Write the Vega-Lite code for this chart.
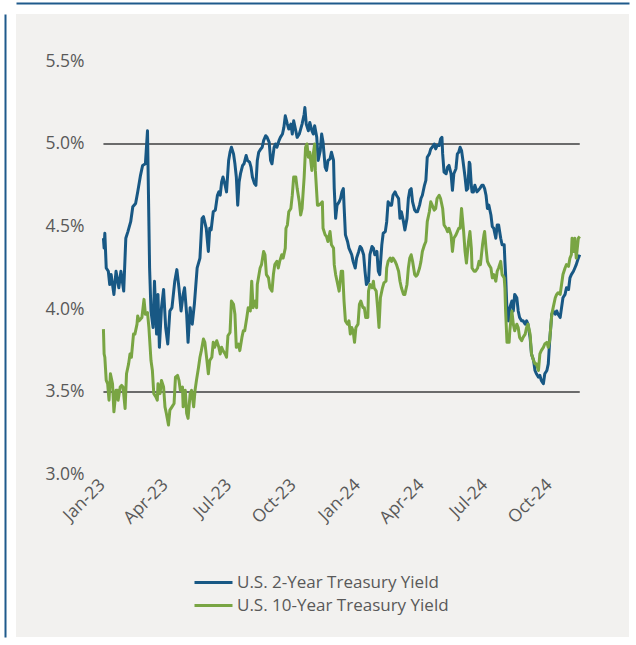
{
  "$schema": "https://vega.github.io/schema/vega-lite/v6.json",
  "width": 613,
  "height": 623,
  "autosize": {"type": "none"},
  "padding": {"left": 16, "top": 14, "right": 7, "bottom": 8},
  "background": "#ffffff",
  "config": {
    "view": {"fill": "#f2f1ef", "stroke": null},
    "font": "Open Sans",
    "axis": {"labelFont": "Open Sans", "labelFontSize": 17.5, "labelColor": "#595959"},
    "legend": {"labelFont": "Open Sans", "labelFontSize": 17, "labelColor": "#595959"}
  },
  "datasets": {
    "levels": [{"level": 5.0}, {"level": 3.5}],
    "yields": [
{"date":"2023-01-03","series":"U.S. 2-Year Treasury Yield","value":4.43},
{"date":"2023-01-04","series":"U.S. 2-Year Treasury Yield","value":4.37},
{"date":"2023-01-05","series":"U.S. 2-Year Treasury Yield","value":4.46},
{"date":"2023-01-07","series":"U.S. 2-Year Treasury Yield","value":4.25},
{"date":"2023-01-10","series":"U.S. 2-Year Treasury Yield","value":4.23},
{"date":"2023-01-12","series":"U.S. 2-Year Treasury Yield","value":4.15},
{"date":"2023-01-14","series":"U.S. 2-Year Treasury Yield","value":4.21},
{"date":"2023-01-18","series":"U.S. 2-Year Treasury Yield","value":4.09},
{"date":"2023-01-21","series":"U.S. 2-Year Treasury Yield","value":4.23},
{"date":"2023-01-25","series":"U.S. 2-Year Treasury Yield","value":4.13},
{"date":"2023-01-28","series":"U.S. 2-Year Treasury Yield","value":4.23},
{"date":"2023-02-01","series":"U.S. 2-Year Treasury Yield","value":4.11},
{"date":"2023-02-04","series":"U.S. 2-Year Treasury Yield","value":4.43},
{"date":"2023-02-07","series":"U.S. 2-Year Treasury Yield","value":4.47},
{"date":"2023-02-11","series":"U.S. 2-Year Treasury Yield","value":4.53},
{"date":"2023-02-14","series":"U.S. 2-Year Treasury Yield","value":4.62},
{"date":"2023-02-18","series":"U.S. 2-Year Treasury Yield","value":4.64},
{"date":"2023-02-21","series":"U.S. 2-Year Treasury Yield","value":4.71},
{"date":"2023-02-25","series":"U.S. 2-Year Treasury Yield","value":4.81},
{"date":"2023-02-28","series":"U.S. 2-Year Treasury Yield","value":4.87},
{"date":"2023-03-04","series":"U.S. 2-Year Treasury Yield","value":4.88},
{"date":"2023-03-07","series":"U.S. 2-Year Treasury Yield","value":5.08},
{"date":"2023-03-10","series":"U.S. 2-Year Treasury Yield","value":4.25},
{"date":"2023-03-12","series":"U.S. 2-Year Treasury Yield","value":3.99},
{"date":"2023-03-15","series":"U.S. 2-Year Treasury Yield","value":3.89},
{"date":"2023-03-17","series":"U.S. 2-Year Treasury Yield","value":4.17},
{"date":"2023-03-20","series":"U.S. 2-Year Treasury Yield","value":3.85},
{"date":"2023-03-22","series":"U.S. 2-Year Treasury Yield","value":4.09},
{"date":"2023-03-24","series":"U.S. 2-Year Treasury Yield","value":3.77},
{"date":"2023-03-27","series":"U.S. 2-Year Treasury Yield","value":4.01},
{"date":"2023-03-30","series":"U.S. 2-Year Treasury Yield","value":4.12},
{"date":"2023-04-02","series":"U.S. 2-Year Treasury Yield","value":3.89},
{"date":"2023-04-05","series":"U.S. 2-Year Treasury Yield","value":3.79},
{"date":"2023-04-08","series":"U.S. 2-Year Treasury Yield","value":3.99},
{"date":"2023-04-11","series":"U.S. 2-Year Treasury Yield","value":4.01},
{"date":"2023-04-15","series":"U.S. 2-Year Treasury Yield","value":4.17},
{"date":"2023-04-18","series":"U.S. 2-Year Treasury Yield","value":4.24},
{"date":"2023-04-21","series":"U.S. 2-Year Treasury Yield","value":4.13},
{"date":"2023-04-24","series":"U.S. 2-Year Treasury Yield","value":3.99},
{"date":"2023-04-27","series":"U.S. 2-Year Treasury Yield","value":4.09},
{"date":"2023-04-29","series":"U.S. 2-Year Treasury Yield","value":4.13},
{"date":"2023-05-02","series":"U.S. 2-Year Treasury Yield","value":3.97},
{"date":"2023-05-04","series":"U.S. 2-Year Treasury Yield","value":3.80},
{"date":"2023-05-07","series":"U.S. 2-Year Treasury Yield","value":4.01},
{"date":"2023-05-10","series":"U.S. 2-Year Treasury Yield","value":3.91},
{"date":"2023-05-13","series":"U.S. 2-Year Treasury Yield","value":4.03},
{"date":"2023-05-17","series":"U.S. 2-Year Treasury Yield","value":4.25},
{"date":"2023-05-21","series":"U.S. 2-Year Treasury Yield","value":4.31},
{"date":"2023-05-24","series":"U.S. 2-Year Treasury Yield","value":4.55},
{"date":"2023-05-26","series":"U.S. 2-Year Treasury Yield","value":4.56},
{"date":"2023-05-30","series":"U.S. 2-Year Treasury Yield","value":4.49},
{"date":"2023-06-02","series":"U.S. 2-Year Treasury Yield","value":4.35},
{"date":"2023-06-04","series":"U.S. 2-Year Treasury Yield","value":4.49},
{"date":"2023-06-06","series":"U.S. 2-Year Treasury Yield","value":4.48},
{"date":"2023-06-09","series":"U.S. 2-Year Treasury Yield","value":4.59},
{"date":"2023-06-12","series":"U.S. 2-Year Treasury Yield","value":4.60},
{"date":"2023-06-15","series":"U.S. 2-Year Treasury Yield","value":4.69},
{"date":"2023-06-17","series":"U.S. 2-Year Treasury Yield","value":4.71},
{"date":"2023-06-19","series":"U.S. 2-Year Treasury Yield","value":4.69},
{"date":"2023-06-21","series":"U.S. 2-Year Treasury Yield","value":4.77},
{"date":"2023-06-23","series":"U.S. 2-Year Treasury Yield","value":4.80},
{"date":"2023-06-26","series":"U.S. 2-Year Treasury Yield","value":4.75},
{"date":"2023-06-28","series":"U.S. 2-Year Treasury Yield","value":4.71},
{"date":"2023-07-01","series":"U.S. 2-Year Treasury Yield","value":4.90},
{"date":"2023-07-03","series":"U.S. 2-Year Treasury Yield","value":4.95},
{"date":"2023-07-05","series":"U.S. 2-Year Treasury Yield","value":4.98},
{"date":"2023-07-08","series":"U.S. 2-Year Treasury Yield","value":4.94},
{"date":"2023-07-10","series":"U.S. 2-Year Treasury Yield","value":4.88},
{"date":"2023-07-12","series":"U.S. 2-Year Treasury Yield","value":4.80},
{"date":"2023-07-14","series":"U.S. 2-Year Treasury Yield","value":4.63},
{"date":"2023-07-16","series":"U.S. 2-Year Treasury Yield","value":4.77},
{"date":"2023-07-18","series":"U.S. 2-Year Treasury Yield","value":4.82},
{"date":"2023-07-21","series":"U.S. 2-Year Treasury Yield","value":4.87},
{"date":"2023-07-23","series":"U.S. 2-Year Treasury Yield","value":4.88},
{"date":"2023-07-26","series":"U.S. 2-Year Treasury Yield","value":4.93},
{"date":"2023-07-28","series":"U.S. 2-Year Treasury Yield","value":4.90},
{"date":"2023-07-31","series":"U.S. 2-Year Treasury Yield","value":4.89},
{"date":"2023-08-02","series":"U.S. 2-Year Treasury Yield","value":4.86},
{"date":"2023-08-04","series":"U.S. 2-Year Treasury Yield","value":4.80},
{"date":"2023-08-07","series":"U.S. 2-Year Treasury Yield","value":4.76},
{"date":"2023-08-09","series":"U.S. 2-Year Treasury Yield","value":4.75},
{"date":"2023-08-11","series":"U.S. 2-Year Treasury Yield","value":4.90},
{"date":"2023-08-13","series":"U.S. 2-Year Treasury Yield","value":4.95},
{"date":"2023-08-16","series":"U.S. 2-Year Treasury Yield","value":4.97},
{"date":"2023-08-18","series":"U.S. 2-Year Treasury Yield","value":4.98},
{"date":"2023-08-20","series":"U.S. 2-Year Treasury Yield","value":5.02},
{"date":"2023-08-23","series":"U.S. 2-Year Treasury Yield","value":5.05},
{"date":"2023-08-25","series":"U.S. 2-Year Treasury Yield","value":5.04},
{"date":"2023-08-28","series":"U.S. 2-Year Treasury Yield","value":5.01},
{"date":"2023-08-30","series":"U.S. 2-Year Treasury Yield","value":4.90},
{"date":"2023-09-01","series":"U.S. 2-Year Treasury Yield","value":4.88},
{"date":"2023-09-04","series":"U.S. 2-Year Treasury Yield","value":4.98},
{"date":"2023-09-06","series":"U.S. 2-Year Treasury Yield","value":5.00},
{"date":"2023-09-08","series":"U.S. 2-Year Treasury Yield","value":4.98},
{"date":"2023-09-11","series":"U.S. 2-Year Treasury Yield","value":5.02},
{"date":"2023-09-13","series":"U.S. 2-Year Treasury Yield","value":5.04},
{"date":"2023-09-16","series":"U.S. 2-Year Treasury Yield","value":5.06},
{"date":"2023-09-18","series":"U.S. 2-Year Treasury Yield","value":5.10},
{"date":"2023-09-20","series":"U.S. 2-Year Treasury Yield","value":5.17},
{"date":"2023-09-23","series":"U.S. 2-Year Treasury Yield","value":5.12},
{"date":"2023-09-25","series":"U.S. 2-Year Treasury Yield","value":5.09},
{"date":"2023-09-28","series":"U.S. 2-Year Treasury Yield","value":5.12},
{"date":"2023-09-30","series":"U.S. 2-Year Treasury Yield","value":5.06},
{"date":"2023-10-02","series":"U.S. 2-Year Treasury Yield","value":5.14},
{"date":"2023-10-05","series":"U.S. 2-Year Treasury Yield","value":5.08},
{"date":"2023-10-07","series":"U.S. 2-Year Treasury Yield","value":5.04},
{"date":"2023-10-10","series":"U.S. 2-Year Treasury Yield","value":5.06},
{"date":"2023-10-12","series":"U.S. 2-Year Treasury Yield","value":5.09},
{"date":"2023-10-14","series":"U.S. 2-Year Treasury Yield","value":5.12},
{"date":"2023-10-17","series":"U.S. 2-Year Treasury Yield","value":5.18},
{"date":"2023-10-18","series":"U.S. 2-Year Treasury Yield","value":5.22},
{"date":"2023-10-20","series":"U.S. 2-Year Treasury Yield","value":5.12},
{"date":"2023-10-23","series":"U.S. 2-Year Treasury Yield","value":5.08},
{"date":"2023-10-25","series":"U.S. 2-Year Treasury Yield","value":5.13},
{"date":"2023-10-28","series":"U.S. 2-Year Treasury Yield","value":5.08},
{"date":"2023-10-30","series":"U.S. 2-Year Treasury Yield","value":5.06},
{"date":"2023-11-01","series":"U.S. 2-Year Treasury Yield","value":5.11},
{"date":"2023-11-04","series":"U.S. 2-Year Treasury Yield","value":5.04},
{"date":"2023-11-06","series":"U.S. 2-Year Treasury Yield","value":4.90},
{"date":"2023-11-09","series":"U.S. 2-Year Treasury Yield","value":4.96},
{"date":"2023-11-11","series":"U.S. 2-Year Treasury Yield","value":5.06},
{"date":"2023-11-13","series":"U.S. 2-Year Treasury Yield","value":5.01},
{"date":"2023-11-16","series":"U.S. 2-Year Treasury Yield","value":4.86},
{"date":"2023-11-18","series":"U.S. 2-Year Treasury Yield","value":4.84},
{"date":"2023-11-20","series":"U.S. 2-Year Treasury Yield","value":4.90},
{"date":"2023-11-23","series":"U.S. 2-Year Treasury Yield","value":4.91},
{"date":"2023-11-25","series":"U.S. 2-Year Treasury Yield","value":4.95},
{"date":"2023-11-28","series":"U.S. 2-Year Treasury Yield","value":4.90},
{"date":"2023-11-29","series":"U.S. 2-Year Treasury Yield","value":4.73},
{"date":"2023-12-01","series":"U.S. 2-Year Treasury Yield","value":4.55},
{"date":"2023-12-03","series":"U.S. 2-Year Treasury Yield","value":4.63},
{"date":"2023-12-06","series":"U.S. 2-Year Treasury Yield","value":4.65},
{"date":"2023-12-08","series":"U.S. 2-Year Treasury Yield","value":4.67},
{"date":"2023-12-10","series":"U.S. 2-Year Treasury Yield","value":4.71},
{"date":"2023-12-12","series":"U.S. 2-Year Treasury Yield","value":4.73},
{"date":"2023-12-13","series":"U.S. 2-Year Treasury Yield","value":4.63},
{"date":"2023-12-15","series":"U.S. 2-Year Treasury Yield","value":4.45},
{"date":"2023-12-18","series":"U.S. 2-Year Treasury Yield","value":4.41},
{"date":"2023-12-20","series":"U.S. 2-Year Treasury Yield","value":4.37},
{"date":"2023-12-22","series":"U.S. 2-Year Treasury Yield","value":4.35},
{"date":"2023-12-24","series":"U.S. 2-Year Treasury Yield","value":4.33},
{"date":"2023-12-26","series":"U.S. 2-Year Treasury Yield","value":4.29},
{"date":"2023-12-29","series":"U.S. 2-Year Treasury Yield","value":4.25},
{"date":"2023-12-31","series":"U.S. 2-Year Treasury Yield","value":4.31},
{"date":"2024-01-03","series":"U.S. 2-Year Treasury Yield","value":4.35},
{"date":"2024-01-05","series":"U.S. 2-Year Treasury Yield","value":4.38},
{"date":"2024-01-07","series":"U.S. 2-Year Treasury Yield","value":4.37},
{"date":"2024-01-10","series":"U.S. 2-Year Treasury Yield","value":4.33},
{"date":"2024-01-12","series":"U.S. 2-Year Treasury Yield","value":4.23},
{"date":"2024-01-14","series":"U.S. 2-Year Treasury Yield","value":4.15},
{"date":"2024-01-17","series":"U.S. 2-Year Treasury Yield","value":4.17},
{"date":"2024-01-19","series":"U.S. 2-Year Treasury Yield","value":4.33},
{"date":"2024-01-22","series":"U.S. 2-Year Treasury Yield","value":4.38},
{"date":"2024-01-24","series":"U.S. 2-Year Treasury Yield","value":4.37},
{"date":"2024-01-26","series":"U.S. 2-Year Treasury Yield","value":4.33},
{"date":"2024-01-29","series":"U.S. 2-Year Treasury Yield","value":4.35},
{"date":"2024-01-31","series":"U.S. 2-Year Treasury Yield","value":4.23},
{"date":"2024-02-02","series":"U.S. 2-Year Treasury Yield","value":4.21},
{"date":"2024-02-05","series":"U.S. 2-Year Treasury Yield","value":4.39},
{"date":"2024-02-07","series":"U.S. 2-Year Treasury Yield","value":4.46},
{"date":"2024-02-10","series":"U.S. 2-Year Treasury Yield","value":4.47},
{"date":"2024-02-12","series":"U.S. 2-Year Treasury Yield","value":4.53},
{"date":"2024-02-14","series":"U.S. 2-Year Treasury Yield","value":4.65},
{"date":"2024-02-17","series":"U.S. 2-Year Treasury Yield","value":4.63},
{"date":"2024-02-19","series":"U.S. 2-Year Treasury Yield","value":4.63},
{"date":"2024-02-21","series":"U.S. 2-Year Treasury Yield","value":4.69},
{"date":"2024-02-24","series":"U.S. 2-Year Treasury Yield","value":4.71},
{"date":"2024-02-26","series":"U.S. 2-Year Treasury Yield","value":4.69},
{"date":"2024-02-29","series":"U.S. 2-Year Treasury Yield","value":4.67},
{"date":"2024-03-02","series":"U.S. 2-Year Treasury Yield","value":4.55},
{"date":"2024-03-04","series":"U.S. 2-Year Treasury Yield","value":4.59},
{"date":"2024-03-07","series":"U.S. 2-Year Treasury Yield","value":4.53},
{"date":"2024-03-09","series":"U.S. 2-Year Treasury Yield","value":4.48},
{"date":"2024-03-12","series":"U.S. 2-Year Treasury Yield","value":4.55},
{"date":"2024-03-14","series":"U.S. 2-Year Treasury Yield","value":4.67},
{"date":"2024-03-16","series":"U.S. 2-Year Treasury Yield","value":4.72},
{"date":"2024-03-18","series":"U.S. 2-Year Treasury Yield","value":4.73},
{"date":"2024-03-20","series":"U.S. 2-Year Treasury Yield","value":4.65},
{"date":"2024-03-23","series":"U.S. 2-Year Treasury Yield","value":4.60},
{"date":"2024-03-25","series":"U.S. 2-Year Treasury Yield","value":4.59},
{"date":"2024-03-27","series":"U.S. 2-Year Treasury Yield","value":4.59},
{"date":"2024-03-30","series":"U.S. 2-Year Treasury Yield","value":4.63},
{"date":"2024-04-01","series":"U.S. 2-Year Treasury Yield","value":4.67},
{"date":"2024-04-03","series":"U.S. 2-Year Treasury Yield","value":4.69},
{"date":"2024-04-06","series":"U.S. 2-Year Treasury Yield","value":4.75},
{"date":"2024-04-08","series":"U.S. 2-Year Treasury Yield","value":4.78},
{"date":"2024-04-10","series":"U.S. 2-Year Treasury Yield","value":4.92},
{"date":"2024-04-13","series":"U.S. 2-Year Treasury Yield","value":4.94},
{"date":"2024-04-15","series":"U.S. 2-Year Treasury Yield","value":4.97},
{"date":"2024-04-17","series":"U.S. 2-Year Treasury Yield","value":4.98},
{"date":"2024-04-20","series":"U.S. 2-Year Treasury Yield","value":5.00},
{"date":"2024-04-22","series":"U.S. 2-Year Treasury Yield","value":4.97},
{"date":"2024-04-24","series":"U.S. 2-Year Treasury Yield","value":4.99},
{"date":"2024-04-27","series":"U.S. 2-Year Treasury Yield","value":4.99},
{"date":"2024-04-29","series":"U.S. 2-Year Treasury Yield","value":5.03},
{"date":"2024-05-01","series":"U.S. 2-Year Treasury Yield","value":5.04},
{"date":"2024-05-02","series":"U.S. 2-Year Treasury Yield","value":4.94},
{"date":"2024-05-04","series":"U.S. 2-Year Treasury Yield","value":4.83},
{"date":"2024-05-07","series":"U.S. 2-Year Treasury Yield","value":4.82},
{"date":"2024-05-09","series":"U.S. 2-Year Treasury Yield","value":4.86},
{"date":"2024-05-11","series":"U.S. 2-Year Treasury Yield","value":4.87},
{"date":"2024-05-14","series":"U.S. 2-Year Treasury Yield","value":4.82},
{"date":"2024-05-16","series":"U.S. 2-Year Treasury Yield","value":4.72},
{"date":"2024-05-18","series":"U.S. 2-Year Treasury Yield","value":4.82},
{"date":"2024-05-21","series":"U.S. 2-Year Treasury Yield","value":4.85},
{"date":"2024-05-23","series":"U.S. 2-Year Treasury Yield","value":4.94},
{"date":"2024-05-25","series":"U.S. 2-Year Treasury Yield","value":4.95},
{"date":"2024-05-27","series":"U.S. 2-Year Treasury Yield","value":4.98},
{"date":"2024-05-29","series":"U.S. 2-Year Treasury Yield","value":4.96},
{"date":"2024-05-31","series":"U.S. 2-Year Treasury Yield","value":4.90},
{"date":"2024-06-03","series":"U.S. 2-Year Treasury Yield","value":4.80},
{"date":"2024-06-05","series":"U.S. 2-Year Treasury Yield","value":4.72},
{"date":"2024-06-07","series":"U.S. 2-Year Treasury Yield","value":4.73},
{"date":"2024-06-09","series":"U.S. 2-Year Treasury Yield","value":4.89},
{"date":"2024-06-10","series":"U.S. 2-Year Treasury Yield","value":4.88},
{"date":"2024-06-12","series":"U.S. 2-Year Treasury Yield","value":4.75},
{"date":"2024-06-13","series":"U.S. 2-Year Treasury Yield","value":4.71},
{"date":"2024-06-15","series":"U.S. 2-Year Treasury Yield","value":4.71},
{"date":"2024-06-17","series":"U.S. 2-Year Treasury Yield","value":4.75},
{"date":"2024-06-20","series":"U.S. 2-Year Treasury Yield","value":4.71},
{"date":"2024-06-22","series":"U.S. 2-Year Treasury Yield","value":4.72},
{"date":"2024-06-24","series":"U.S. 2-Year Treasury Yield","value":4.73},
{"date":"2024-06-27","series":"U.S. 2-Year Treasury Yield","value":4.75},
{"date":"2024-06-29","series":"U.S. 2-Year Treasury Yield","value":4.75},
{"date":"2024-07-01","series":"U.S. 2-Year Treasury Yield","value":4.73},
{"date":"2024-07-03","series":"U.S. 2-Year Treasury Yield","value":4.69},
{"date":"2024-07-05","series":"U.S. 2-Year Treasury Yield","value":4.61},
{"date":"2024-07-07","series":"U.S. 2-Year Treasury Yield","value":4.63},
{"date":"2024-07-10","series":"U.S. 2-Year Treasury Yield","value":4.57},
{"date":"2024-07-12","series":"U.S. 2-Year Treasury Yield","value":4.50},
{"date":"2024-07-14","series":"U.S. 2-Year Treasury Yield","value":4.49},
{"date":"2024-07-17","series":"U.S. 2-Year Treasury Yield","value":4.43},
{"date":"2024-07-19","series":"U.S. 2-Year Treasury Yield","value":4.51},
{"date":"2024-07-21","series":"U.S. 2-Year Treasury Yield","value":4.51},
{"date":"2024-07-24","series":"U.S. 2-Year Treasury Yield","value":4.43},
{"date":"2024-07-26","series":"U.S. 2-Year Treasury Yield","value":4.39},
{"date":"2024-07-29","series":"U.S. 2-Year Treasury Yield","value":4.39},
{"date":"2024-07-30","series":"U.S. 2-Year Treasury Yield","value":4.29},
{"date":"2024-07-31","series":"U.S. 2-Year Treasury Yield","value":4.21},
{"date":"2024-08-02","series":"U.S. 2-Year Treasury Yield","value":3.99},
{"date":"2024-08-04","series":"U.S. 2-Year Treasury Yield","value":3.93},
{"date":"2024-08-06","series":"U.S. 2-Year Treasury Yield","value":4.01},
{"date":"2024-08-09","series":"U.S. 2-Year Treasury Yield","value":4.05},
{"date":"2024-08-11","series":"U.S. 2-Year Treasury Yield","value":3.99},
{"date":"2024-08-13","series":"U.S. 2-Year Treasury Yield","value":4.09},
{"date":"2024-08-16","series":"U.S. 2-Year Treasury Yield","value":4.07},
{"date":"2024-08-18","series":"U.S. 2-Year Treasury Yield","value":3.99},
{"date":"2024-08-20","series":"U.S. 2-Year Treasury Yield","value":3.95},
{"date":"2024-08-23","series":"U.S. 2-Year Treasury Yield","value":3.93},
{"date":"2024-08-25","series":"U.S. 2-Year Treasury Yield","value":3.93},
{"date":"2024-08-28","series":"U.S. 2-Year Treasury Yield","value":3.91},
{"date":"2024-08-30","series":"U.S. 2-Year Treasury Yield","value":3.93},
{"date":"2024-09-01","series":"U.S. 2-Year Treasury Yield","value":3.91},
{"date":"2024-09-04","series":"U.S. 2-Year Treasury Yield","value":3.83},
{"date":"2024-09-06","series":"U.S. 2-Year Treasury Yield","value":3.73},
{"date":"2024-09-09","series":"U.S. 2-Year Treasury Yield","value":3.69},
{"date":"2024-09-11","series":"U.S. 2-Year Treasury Yield","value":3.63},
{"date":"2024-09-13","series":"U.S. 2-Year Treasury Yield","value":3.61},
{"date":"2024-09-16","series":"U.S. 2-Year Treasury Yield","value":3.59},
{"date":"2024-09-18","series":"U.S. 2-Year Treasury Yield","value":3.60},
{"date":"2024-09-20","series":"U.S. 2-Year Treasury Yield","value":3.57},
{"date":"2024-09-23","series":"U.S. 2-Year Treasury Yield","value":3.55},
{"date":"2024-09-25","series":"U.S. 2-Year Treasury Yield","value":3.61},
{"date":"2024-09-28","series":"U.S. 2-Year Treasury Yield","value":3.63},
{"date":"2024-09-30","series":"U.S. 2-Year Treasury Yield","value":3.67},
{"date":"2024-10-02","series":"U.S. 2-Year Treasury Yield","value":3.81},
{"date":"2024-10-05","series":"U.S. 2-Year Treasury Yield","value":3.97},
{"date":"2024-10-07","series":"U.S. 2-Year Treasury Yield","value":3.99},
{"date":"2024-10-10","series":"U.S. 2-Year Treasury Yield","value":3.97},
{"date":"2024-10-12","series":"U.S. 2-Year Treasury Yield","value":3.99},
{"date":"2024-10-14","series":"U.S. 2-Year Treasury Yield","value":3.97},
{"date":"2024-10-17","series":"U.S. 2-Year Treasury Yield","value":3.95},
{"date":"2024-10-19","series":"U.S. 2-Year Treasury Yield","value":4.01},
{"date":"2024-10-21","series":"U.S. 2-Year Treasury Yield","value":4.07},
{"date":"2024-10-24","series":"U.S. 2-Year Treasury Yield","value":4.09},
{"date":"2024-10-26","series":"U.S. 2-Year Treasury Yield","value":4.13},
{"date":"2024-10-29","series":"U.S. 2-Year Treasury Yield","value":4.12},
{"date":"2024-10-31","series":"U.S. 2-Year Treasury Yield","value":4.19},
{"date":"2024-11-02","series":"U.S. 2-Year Treasury Yield","value":4.21},
{"date":"2024-11-05","series":"U.S. 2-Year Treasury Yield","value":4.23},
{"date":"2024-11-07","series":"U.S. 2-Year Treasury Yield","value":4.25},
{"date":"2024-11-09","series":"U.S. 2-Year Treasury Yield","value":4.27},
{"date":"2024-11-12","series":"U.S. 2-Year Treasury Yield","value":4.31},
{"date":"2024-11-14","series":"U.S. 2-Year Treasury Yield","value":4.33},
{"date":"2023-01-03","series":"U.S. 10-Year Treasury Yield","value":3.88},
{"date":"2023-01-04","series":"U.S. 10-Year Treasury Yield","value":3.73},
{"date":"2023-01-05","series":"U.S. 10-Year Treasury Yield","value":3.71},
{"date":"2023-01-07","series":"U.S. 10-Year Treasury Yield","value":3.57},
{"date":"2023-01-09","series":"U.S. 10-Year Treasury Yield","value":3.55},
{"date":"2023-01-11","series":"U.S. 10-Year Treasury Yield","value":3.45},
{"date":"2023-01-13","series":"U.S. 10-Year Treasury Yield","value":3.61},
{"date":"2023-01-16","series":"U.S. 10-Year Treasury Yield","value":3.55},
{"date":"2023-01-18","series":"U.S. 10-Year Treasury Yield","value":3.38},
{"date":"2023-01-21","series":"U.S. 10-Year Treasury Yield","value":3.51},
{"date":"2023-01-23","series":"U.S. 10-Year Treasury Yield","value":3.51},
{"date":"2023-01-24","series":"U.S. 10-Year Treasury Yield","value":3.45},
{"date":"2023-01-27","series":"U.S. 10-Year Treasury Yield","value":3.53},
{"date":"2023-01-29","series":"U.S. 10-Year Treasury Yield","value":3.54},
{"date":"2023-01-31","series":"U.S. 10-Year Treasury Yield","value":3.53},
{"date":"2023-02-03","series":"U.S. 10-Year Treasury Yield","value":3.40},
{"date":"2023-02-05","series":"U.S. 10-Year Treasury Yield","value":3.61},
{"date":"2023-02-08","series":"U.S. 10-Year Treasury Yield","value":3.67},
{"date":"2023-02-10","series":"U.S. 10-Year Treasury Yield","value":3.73},
{"date":"2023-02-12","series":"U.S. 10-Year Treasury Yield","value":3.71},
{"date":"2023-02-15","series":"U.S. 10-Year Treasury Yield","value":3.85},
{"date":"2023-02-17","series":"U.S. 10-Year Treasury Yield","value":3.85},
{"date":"2023-02-20","series":"U.S. 10-Year Treasury Yield","value":3.91},
{"date":"2023-02-21","series":"U.S. 10-Year Treasury Yield","value":3.96},
{"date":"2023-02-23","series":"U.S. 10-Year Treasury Yield","value":3.93},
{"date":"2023-02-27","series":"U.S. 10-Year Treasury Yield","value":3.95},
{"date":"2023-03-02","series":"U.S. 10-Year Treasury Yield","value":4.06},
{"date":"2023-03-04","series":"U.S. 10-Year Treasury Yield","value":3.97},
{"date":"2023-03-07","series":"U.S. 10-Year Treasury Yield","value":3.98},
{"date":"2023-03-09","series":"U.S. 10-Year Treasury Yield","value":3.89},
{"date":"2023-03-12","series":"U.S. 10-Year Treasury Yield","value":3.69},
{"date":"2023-03-14","series":"U.S. 10-Year Treasury Yield","value":3.63},
{"date":"2023-03-16","series":"U.S. 10-Year Treasury Yield","value":3.49},
{"date":"2023-03-19","series":"U.S. 10-Year Treasury Yield","value":3.47},
{"date":"2023-03-21","series":"U.S. 10-Year Treasury Yield","value":3.45},
{"date":"2023-03-22","series":"U.S. 10-Year Treasury Yield","value":3.55},
{"date":"2023-03-25","series":"U.S. 10-Year Treasury Yield","value":3.49},
{"date":"2023-03-27","series":"U.S. 10-Year Treasury Yield","value":3.57},
{"date":"2023-03-30","series":"U.S. 10-Year Treasury Yield","value":3.53},
{"date":"2023-04-01","series":"U.S. 10-Year Treasury Yield","value":3.41},
{"date":"2023-04-03","series":"U.S. 10-Year Treasury Yield","value":3.37},
{"date":"2023-04-06","series":"U.S. 10-Year Treasury Yield","value":3.30},
{"date":"2023-04-08","series":"U.S. 10-Year Treasury Yield","value":3.39},
{"date":"2023-04-11","series":"U.S. 10-Year Treasury Yield","value":3.41},
{"date":"2023-04-14","series":"U.S. 10-Year Treasury Yield","value":3.43},
{"date":"2023-04-16","series":"U.S. 10-Year Treasury Yield","value":3.59},
{"date":"2023-04-19","series":"U.S. 10-Year Treasury Yield","value":3.60},
{"date":"2023-04-21","series":"U.S. 10-Year Treasury Yield","value":3.57},
{"date":"2023-04-23","series":"U.S. 10-Year Treasury Yield","value":3.51},
{"date":"2023-04-26","series":"U.S. 10-Year Treasury Yield","value":3.53},
{"date":"2023-04-27","series":"U.S. 10-Year Treasury Yield","value":3.41},
{"date":"2023-04-30","series":"U.S. 10-Year Treasury Yield","value":3.51},
{"date":"2023-05-02","series":"U.S. 10-Year Treasury Yield","value":3.37},
{"date":"2023-05-04","series":"U.S. 10-Year Treasury Yield","value":3.34},
{"date":"2023-05-07","series":"U.S. 10-Year Treasury Yield","value":3.49},
{"date":"2023-05-09","series":"U.S. 10-Year Treasury Yield","value":3.51},
{"date":"2023-05-12","series":"U.S. 10-Year Treasury Yield","value":3.41},
{"date":"2023-05-14","series":"U.S. 10-Year Treasury Yield","value":3.51},
{"date":"2023-05-16","series":"U.S. 10-Year Treasury Yield","value":3.57},
{"date":"2023-05-19","series":"U.S. 10-Year Treasury Yield","value":3.65},
{"date":"2023-05-21","series":"U.S. 10-Year Treasury Yield","value":3.71},
{"date":"2023-05-23","series":"U.S. 10-Year Treasury Yield","value":3.75},
{"date":"2023-05-26","series":"U.S. 10-Year Treasury Yield","value":3.82},
{"date":"2023-05-28","series":"U.S. 10-Year Treasury Yield","value":3.80},
{"date":"2023-05-31","series":"U.S. 10-Year Treasury Yield","value":3.69},
{"date":"2023-06-02","series":"U.S. 10-Year Treasury Yield","value":3.61},
{"date":"2023-06-04","series":"U.S. 10-Year Treasury Yield","value":3.69},
{"date":"2023-06-07","series":"U.S. 10-Year Treasury Yield","value":3.71},
{"date":"2023-06-09","series":"U.S. 10-Year Treasury Yield","value":3.80},
{"date":"2023-06-11","series":"U.S. 10-Year Treasury Yield","value":3.77},
{"date":"2023-06-14","series":"U.S. 10-Year Treasury Yield","value":3.81},
{"date":"2023-06-17","series":"U.S. 10-Year Treasury Yield","value":3.77},
{"date":"2023-06-19","series":"U.S. 10-Year Treasury Yield","value":3.73},
{"date":"2023-06-21","series":"U.S. 10-Year Treasury Yield","value":3.77},
{"date":"2023-06-23","series":"U.S. 10-Year Treasury Yield","value":3.75},
{"date":"2023-06-26","series":"U.S. 10-Year Treasury Yield","value":3.73},
{"date":"2023-06-28","series":"U.S. 10-Year Treasury Yield","value":3.71},
{"date":"2023-06-30","series":"U.S. 10-Year Treasury Yield","value":3.84},
{"date":"2023-07-03","series":"U.S. 10-Year Treasury Yield","value":3.86},
{"date":"2023-07-05","series":"U.S. 10-Year Treasury Yield","value":4.05},
{"date":"2023-07-08","series":"U.S. 10-Year Treasury Yield","value":4.03},
{"date":"2023-07-10","series":"U.S. 10-Year Treasury Yield","value":3.97},
{"date":"2023-07-12","series":"U.S. 10-Year Treasury Yield","value":3.77},
{"date":"2023-07-15","series":"U.S. 10-Year Treasury Yield","value":3.79},
{"date":"2023-07-17","series":"U.S. 10-Year Treasury Yield","value":3.75},
{"date":"2023-07-20","series":"U.S. 10-Year Treasury Yield","value":3.83},
{"date":"2023-07-22","series":"U.S. 10-Year Treasury Yield","value":3.87},
{"date":"2023-07-24","series":"U.S. 10-Year Treasury Yield","value":3.87},
{"date":"2023-07-27","series":"U.S. 10-Year Treasury Yield","value":3.95},
{"date":"2023-07-29","series":"U.S. 10-Year Treasury Yield","value":4.01},
{"date":"2023-08-01","series":"U.S. 10-Year Treasury Yield","value":3.99},
{"date":"2023-08-03","series":"U.S. 10-Year Treasury Yield","value":4.17},
{"date":"2023-08-05","series":"U.S. 10-Year Treasury Yield","value":4.01},
{"date":"2023-08-08","series":"U.S. 10-Year Treasury Yield","value":4.05},
{"date":"2023-08-10","series":"U.S. 10-Year Treasury Yield","value":4.01},
{"date":"2023-08-11","series":"U.S. 10-Year Treasury Yield","value":4.15},
{"date":"2023-08-15","series":"U.S. 10-Year Treasury Yield","value":4.25},
{"date":"2023-08-17","series":"U.S. 10-Year Treasury Yield","value":4.27},
{"date":"2023-08-20","series":"U.S. 10-Year Treasury Yield","value":4.35},
{"date":"2023-08-22","series":"U.S. 10-Year Treasury Yield","value":4.33},
{"date":"2023-08-24","series":"U.S. 10-Year Treasury Yield","value":4.21},
{"date":"2023-08-27","series":"U.S. 10-Year Treasury Yield","value":4.19},
{"date":"2023-08-29","series":"U.S. 10-Year Treasury Yield","value":4.13},
{"date":"2023-09-01","series":"U.S. 10-Year Treasury Yield","value":4.11},
{"date":"2023-09-03","series":"U.S. 10-Year Treasury Yield","value":4.21},
{"date":"2023-09-05","series":"U.S. 10-Year Treasury Yield","value":4.27},
{"date":"2023-09-08","series":"U.S. 10-Year Treasury Yield","value":4.29},
{"date":"2023-09-10","series":"U.S. 10-Year Treasury Yield","value":4.25},
{"date":"2023-09-12","series":"U.S. 10-Year Treasury Yield","value":4.29},
{"date":"2023-09-15","series":"U.S. 10-Year Treasury Yield","value":4.33},
{"date":"2023-09-17","series":"U.S. 10-Year Treasury Yield","value":4.31},
{"date":"2023-09-20","series":"U.S. 10-Year Treasury Yield","value":4.37},
{"date":"2023-09-21","series":"U.S. 10-Year Treasury Yield","value":4.49},
{"date":"2023-09-23","series":"U.S. 10-Year Treasury Yield","value":4.51},
{"date":"2023-09-25","series":"U.S. 10-Year Treasury Yield","value":4.59},
{"date":"2023-09-28","series":"U.S. 10-Year Treasury Yield","value":4.61},
{"date":"2023-09-30","series":"U.S. 10-Year Treasury Yield","value":4.69},
{"date":"2023-10-02","series":"U.S. 10-Year Treasury Yield","value":4.80},
{"date":"2023-10-05","series":"U.S. 10-Year Treasury Yield","value":4.80},
{"date":"2023-10-07","series":"U.S. 10-Year Treasury Yield","value":4.73},
{"date":"2023-10-10","series":"U.S. 10-Year Treasury Yield","value":4.65},
{"date":"2023-10-12","series":"U.S. 10-Year Treasury Yield","value":4.57},
{"date":"2023-10-14","series":"U.S. 10-Year Treasury Yield","value":4.61},
{"date":"2023-10-17","series":"U.S. 10-Year Treasury Yield","value":4.80},
{"date":"2023-10-19","series":"U.S. 10-Year Treasury Yield","value":4.98},
{"date":"2023-10-21","series":"U.S. 10-Year Treasury Yield","value":5.00},
{"date":"2023-10-23","series":"U.S. 10-Year Treasury Yield","value":4.92},
{"date":"2023-10-25","series":"U.S. 10-Year Treasury Yield","value":4.95},
{"date":"2023-10-28","series":"U.S. 10-Year Treasury Yield","value":4.84},
{"date":"2023-10-30","series":"U.S. 10-Year Treasury Yield","value":4.94},
{"date":"2023-11-01","series":"U.S. 10-Year Treasury Yield","value":5.00},
{"date":"2023-11-02","series":"U.S. 10-Year Treasury Yield","value":4.84},
{"date":"2023-11-05","series":"U.S. 10-Year Treasury Yield","value":4.63},
{"date":"2023-11-07","series":"U.S. 10-Year Treasury Yield","value":4.63},
{"date":"2023-11-10","series":"U.S. 10-Year Treasury Yield","value":4.64},
{"date":"2023-11-12","series":"U.S. 10-Year Treasury Yield","value":4.65},
{"date":"2023-11-13","series":"U.S. 10-Year Treasury Yield","value":4.49},
{"date":"2023-11-16","series":"U.S. 10-Year Treasury Yield","value":4.45},
{"date":"2023-11-18","series":"U.S. 10-Year Treasury Yield","value":4.44},
{"date":"2023-11-20","series":"U.S. 10-Year Treasury Yield","value":4.41},
{"date":"2023-11-23","series":"U.S. 10-Year Treasury Yield","value":4.47},
{"date":"2023-11-25","series":"U.S. 10-Year Treasury Yield","value":4.39},
{"date":"2023-11-28","series":"U.S. 10-Year Treasury Yield","value":4.37},
{"date":"2023-11-29","series":"U.S. 10-Year Treasury Yield","value":4.27},
{"date":"2023-12-01","series":"U.S. 10-Year Treasury Yield","value":4.21},
{"date":"2023-12-03","series":"U.S. 10-Year Treasury Yield","value":4.17},
{"date":"2023-12-06","series":"U.S. 10-Year Treasury Yield","value":4.11},
{"date":"2023-12-09","series":"U.S. 10-Year Treasury Yield","value":4.23},
{"date":"2023-12-11","series":"U.S. 10-Year Treasury Yield","value":4.23},
{"date":"2023-12-13","series":"U.S. 10-Year Treasury Yield","value":4.05},
{"date":"2023-12-15","series":"U.S. 10-Year Treasury Yield","value":3.93},
{"date":"2023-12-18","series":"U.S. 10-Year Treasury Yield","value":3.91},
{"date":"2023-12-20","series":"U.S. 10-Year Treasury Yield","value":3.93},
{"date":"2023-12-22","series":"U.S. 10-Year Treasury Yield","value":3.85},
{"date":"2023-12-24","series":"U.S. 10-Year Treasury Yield","value":3.89},
{"date":"2023-12-26","series":"U.S. 10-Year Treasury Yield","value":3.87},
{"date":"2023-12-28","series":"U.S. 10-Year Treasury Yield","value":3.80},
{"date":"2023-12-30","series":"U.S. 10-Year Treasury Yield","value":3.89},
{"date":"2024-01-02","series":"U.S. 10-Year Treasury Yield","value":3.91},
{"date":"2024-01-04","series":"U.S. 10-Year Treasury Yield","value":4.03},
{"date":"2024-01-06","series":"U.S. 10-Year Treasury Yield","value":4.05},
{"date":"2024-01-09","series":"U.S. 10-Year Treasury Yield","value":4.01},
{"date":"2024-01-11","series":"U.S. 10-Year Treasury Yield","value":4.01},
{"date":"2024-01-13","series":"U.S. 10-Year Treasury Yield","value":3.95},
{"date":"2024-01-16","series":"U.S. 10-Year Treasury Yield","value":3.95},
{"date":"2024-01-17","series":"U.S. 10-Year Treasury Yield","value":4.11},
{"date":"2024-01-19","series":"U.S. 10-Year Treasury Yield","value":4.15},
{"date":"2024-01-22","series":"U.S. 10-Year Treasury Yield","value":4.13},
{"date":"2024-01-24","series":"U.S. 10-Year Treasury Yield","value":4.17},
{"date":"2024-01-25","series":"U.S. 10-Year Treasury Yield","value":4.13},
{"date":"2024-01-28","series":"U.S. 10-Year Treasury Yield","value":4.11},
{"date":"2024-01-30","series":"U.S. 10-Year Treasury Yield","value":4.01},
{"date":"2024-02-01","series":"U.S. 10-Year Treasury Yield","value":3.89},
{"date":"2024-02-03","series":"U.S. 10-Year Treasury Yield","value":4.07},
{"date":"2024-02-06","series":"U.S. 10-Year Treasury Yield","value":4.13},
{"date":"2024-02-08","series":"U.S. 10-Year Treasury Yield","value":4.16},
{"date":"2024-02-11","series":"U.S. 10-Year Treasury Yield","value":4.17},
{"date":"2024-02-12","series":"U.S. 10-Year Treasury Yield","value":4.25},
{"date":"2024-02-14","series":"U.S. 10-Year Treasury Yield","value":4.29},
{"date":"2024-02-17","series":"U.S. 10-Year Treasury Yield","value":4.31},
{"date":"2024-02-19","series":"U.S. 10-Year Treasury Yield","value":4.29},
{"date":"2024-02-21","series":"U.S. 10-Year Treasury Yield","value":4.31},
{"date":"2024-02-24","series":"U.S. 10-Year Treasury Yield","value":4.29},
{"date":"2024-02-26","series":"U.S. 10-Year Treasury Yield","value":4.27},
{"date":"2024-02-29","series":"U.S. 10-Year Treasury Yield","value":4.23},
{"date":"2024-03-02","series":"U.S. 10-Year Treasury Yield","value":4.17},
{"date":"2024-03-04","series":"U.S. 10-Year Treasury Yield","value":4.13},
{"date":"2024-03-07","series":"U.S. 10-Year Treasury Yield","value":4.09},
{"date":"2024-03-09","series":"U.S. 10-Year Treasury Yield","value":4.09},
{"date":"2024-03-12","series":"U.S. 10-Year Treasury Yield","value":4.15},
{"date":"2024-03-14","series":"U.S. 10-Year Treasury Yield","value":4.25},
{"date":"2024-03-16","series":"U.S. 10-Year Treasury Yield","value":4.31},
{"date":"2024-03-18","series":"U.S. 10-Year Treasury Yield","value":4.33},
{"date":"2024-03-20","series":"U.S. 10-Year Treasury Yield","value":4.29},
{"date":"2024-03-23","series":"U.S. 10-Year Treasury Yield","value":4.21},
{"date":"2024-03-25","series":"U.S. 10-Year Treasury Yield","value":4.20},
{"date":"2024-03-27","series":"U.S. 10-Year Treasury Yield","value":4.21},
{"date":"2024-03-30","series":"U.S. 10-Year Treasury Yield","value":4.25},
{"date":"2024-04-01","series":"U.S. 10-Year Treasury Yield","value":4.29},
{"date":"2024-04-03","series":"U.S. 10-Year Treasury Yield","value":4.35},
{"date":"2024-04-06","series":"U.S. 10-Year Treasury Yield","value":4.39},
{"date":"2024-04-08","series":"U.S. 10-Year Treasury Yield","value":4.41},
{"date":"2024-04-10","series":"U.S. 10-Year Treasury Yield","value":4.53},
{"date":"2024-04-13","series":"U.S. 10-Year Treasury Yield","value":4.59},
{"date":"2024-04-15","series":"U.S. 10-Year Treasury Yield","value":4.65},
{"date":"2024-04-17","series":"U.S. 10-Year Treasury Yield","value":4.63},
{"date":"2024-04-20","series":"U.S. 10-Year Treasury Yield","value":4.60},
{"date":"2024-04-22","series":"U.S. 10-Year Treasury Yield","value":4.61},
{"date":"2024-04-24","series":"U.S. 10-Year Treasury Yield","value":4.67},
{"date":"2024-04-27","series":"U.S. 10-Year Treasury Yield","value":4.69},
{"date":"2024-04-29","series":"U.S. 10-Year Treasury Yield","value":4.67},
{"date":"2024-05-02","series":"U.S. 10-Year Treasury Yield","value":4.61},
{"date":"2024-05-04","series":"U.S. 10-Year Treasury Yield","value":4.51},
{"date":"2024-05-07","series":"U.S. 10-Year Treasury Yield","value":4.49},
{"date":"2024-05-09","series":"U.S. 10-Year Treasury Yield","value":4.47},
{"date":"2024-05-11","series":"U.S. 10-Year Treasury Yield","value":4.49},
{"date":"2024-05-14","series":"U.S. 10-Year Treasury Yield","value":4.45},
{"date":"2024-05-16","series":"U.S. 10-Year Treasury Yield","value":4.35},
{"date":"2024-05-18","series":"U.S. 10-Year Treasury Yield","value":4.43},
{"date":"2024-05-21","series":"U.S. 10-Year Treasury Yield","value":4.45},
{"date":"2024-05-23","series":"U.S. 10-Year Treasury Yield","value":4.47},
{"date":"2024-05-25","series":"U.S. 10-Year Treasury Yield","value":4.49},
{"date":"2024-05-27","series":"U.S. 10-Year Treasury Yield","value":4.49},
{"date":"2024-05-29","series":"U.S. 10-Year Treasury Yield","value":4.61},
{"date":"2024-06-01","series":"U.S. 10-Year Treasury Yield","value":4.47},
{"date":"2024-06-03","series":"U.S. 10-Year Treasury Yield","value":4.35},
{"date":"2024-06-05","series":"U.S. 10-Year Treasury Yield","value":4.28},
{"date":"2024-06-08","series":"U.S. 10-Year Treasury Yield","value":4.41},
{"date":"2024-06-10","series":"U.S. 10-Year Treasury Yield","value":4.47},
{"date":"2024-06-12","series":"U.S. 10-Year Treasury Yield","value":4.37},
{"date":"2024-06-13","series":"U.S. 10-Year Treasury Yield","value":4.25},
{"date":"2024-06-16","series":"U.S. 10-Year Treasury Yield","value":4.23},
{"date":"2024-06-18","series":"U.S. 10-Year Treasury Yield","value":4.23},
{"date":"2024-06-21","series":"U.S. 10-Year Treasury Yield","value":4.25},
{"date":"2024-06-23","series":"U.S. 10-Year Treasury Yield","value":4.29},
{"date":"2024-06-25","series":"U.S. 10-Year Treasury Yield","value":4.27},
{"date":"2024-06-28","series":"U.S. 10-Year Treasury Yield","value":4.39},
{"date":"2024-06-30","series":"U.S. 10-Year Treasury Yield","value":4.45},
{"date":"2024-07-01","series":"U.S. 10-Year Treasury Yield","value":4.47},
{"date":"2024-07-03","series":"U.S. 10-Year Treasury Yield","value":4.37},
{"date":"2024-07-05","series":"U.S. 10-Year Treasury Yield","value":4.29},
{"date":"2024-07-07","series":"U.S. 10-Year Treasury Yield","value":4.27},
{"date":"2024-07-10","series":"U.S. 10-Year Treasury Yield","value":4.25},
{"date":"2024-07-12","series":"U.S. 10-Year Treasury Yield","value":4.19},
{"date":"2024-07-14","series":"U.S. 10-Year Treasury Yield","value":4.21},
{"date":"2024-07-17","series":"U.S. 10-Year Treasury Yield","value":4.17},
{"date":"2024-07-19","series":"U.S. 10-Year Treasury Yield","value":4.23},
{"date":"2024-07-21","series":"U.S. 10-Year Treasury Yield","value":4.25},
{"date":"2024-07-24","series":"U.S. 10-Year Treasury Yield","value":4.29},
{"date":"2024-07-26","series":"U.S. 10-Year Treasury Yield","value":4.21},
{"date":"2024-07-29","series":"U.S. 10-Year Treasury Yield","value":4.19},
{"date":"2024-07-30","series":"U.S. 10-Year Treasury Yield","value":4.13},
{"date":"2024-07-31","series":"U.S. 10-Year Treasury Yield","value":3.99},
{"date":"2024-08-02","series":"U.S. 10-Year Treasury Yield","value":3.80},
{"date":"2024-08-05","series":"U.S. 10-Year Treasury Yield","value":3.80},
{"date":"2024-08-06","series":"U.S. 10-Year Treasury Yield","value":3.87},
{"date":"2024-08-09","series":"U.S. 10-Year Treasury Yield","value":3.99},
{"date":"2024-08-11","series":"U.S. 10-Year Treasury Yield","value":3.91},
{"date":"2024-08-13","series":"U.S. 10-Year Treasury Yield","value":3.87},
{"date":"2024-08-16","series":"U.S. 10-Year Treasury Yield","value":3.91},
{"date":"2024-08-18","series":"U.S. 10-Year Treasury Yield","value":3.89},
{"date":"2024-08-20","series":"U.S. 10-Year Treasury Yield","value":3.83},
{"date":"2024-08-23","series":"U.S. 10-Year Treasury Yield","value":3.81},
{"date":"2024-08-25","series":"U.S. 10-Year Treasury Yield","value":3.83},
{"date":"2024-08-28","series":"U.S. 10-Year Treasury Yield","value":3.85},
{"date":"2024-08-30","series":"U.S. 10-Year Treasury Yield","value":3.89},
{"date":"2024-09-01","series":"U.S. 10-Year Treasury Yield","value":3.91},
{"date":"2024-09-04","series":"U.S. 10-Year Treasury Yield","value":3.85},
{"date":"2024-09-06","series":"U.S. 10-Year Treasury Yield","value":3.73},
{"date":"2024-09-09","series":"U.S. 10-Year Treasury Yield","value":3.69},
{"date":"2024-09-11","series":"U.S. 10-Year Treasury Yield","value":3.67},
{"date":"2024-09-13","series":"U.S. 10-Year Treasury Yield","value":3.67},
{"date":"2024-09-16","series":"U.S. 10-Year Treasury Yield","value":3.63},
{"date":"2024-09-18","series":"U.S. 10-Year Treasury Yield","value":3.73},
{"date":"2024-09-20","series":"U.S. 10-Year Treasury Yield","value":3.75},
{"date":"2024-09-23","series":"U.S. 10-Year Treasury Yield","value":3.77},
{"date":"2024-09-25","series":"U.S. 10-Year Treasury Yield","value":3.79},
{"date":"2024-09-28","series":"U.S. 10-Year Treasury Yield","value":3.80},
{"date":"2024-09-30","series":"U.S. 10-Year Treasury Yield","value":3.77},
{"date":"2024-10-02","series":"U.S. 10-Year Treasury Yield","value":3.81},
{"date":"2024-10-05","series":"U.S. 10-Year Treasury Yield","value":3.97},
{"date":"2024-10-07","series":"U.S. 10-Year Treasury Yield","value":4.01},
{"date":"2024-10-10","series":"U.S. 10-Year Treasury Yield","value":4.07},
{"date":"2024-10-12","series":"U.S. 10-Year Treasury Yield","value":4.09},
{"date":"2024-10-14","series":"U.S. 10-Year Treasury Yield","value":4.10},
{"date":"2024-10-17","series":"U.S. 10-Year Treasury Yield","value":4.09},
{"date":"2024-10-19","series":"U.S. 10-Year Treasury Yield","value":4.15},
{"date":"2024-10-21","series":"U.S. 10-Year Treasury Yield","value":4.21},
{"date":"2024-10-24","series":"U.S. 10-Year Treasury Yield","value":4.25},
{"date":"2024-10-26","series":"U.S. 10-Year Treasury Yield","value":4.27},
{"date":"2024-10-29","series":"U.S. 10-Year Treasury Yield","value":4.26},
{"date":"2024-10-31","series":"U.S. 10-Year Treasury Yield","value":4.31},
{"date":"2024-11-02","series":"U.S. 10-Year Treasury Yield","value":4.33},
{"date":"2024-11-03","series":"U.S. 10-Year Treasury Yield","value":4.43},
{"date":"2024-11-05","series":"U.S. 10-Year Treasury Yield","value":4.35},
{"date":"2024-11-07","series":"U.S. 10-Year Treasury Yield","value":4.43},
{"date":"2024-11-09","series":"U.S. 10-Year Treasury Yield","value":4.31},
{"date":"2024-11-12","series":"U.S. 10-Year Treasury Yield","value":4.43},
{"date":"2024-11-14","series":"U.S. 10-Year Treasury Yield","value":4.44}
    ]
  },
  "layer": [
    {
      "data": {"name": "levels"},
      "mark": {"type": "rule", "color": "#6b6b6b", "strokeWidth": 2},
      "encoding": {
        "x": {
          "datum": {"year": 2023, "month": 1, "date": 3, "utc": true},
          "type": "temporal",
          "scale": {"type": "utc", "nice": false, "domain": [{"year": 2022, "month": 8, "date": 31, "utc": true}, {"year": 2025, "month": 1, "date": 23, "hours": 10, "utc": true}]},
          "axis": {"orient": "top", "offset": 11, "labels": false, "ticks": false, "grid": false, "domain": true, "domainColor": "#1f5a8c", "domainWidth": 2, "title": null}
        },
        "x2": {"datum": {"year": 2024, "month": 11, "date": 14, "utc": true}},
        "y": {
          "field": "level",
          "type": "quantitative",
          "scale": {"domain": [2.018, 5.786], "nice": false, "zero": false},
          "axis": {"orient": "left", "offset": 11, "labels": false, "ticks": false, "grid": false, "domain": true, "domainColor": "#1f5a8c", "domainWidth": 2, "title": null}
        }
      }
    },
    {
      "data": {"name": "yields"},
      "mark": {"type": "line", "strokeWidth": 3, "strokeJoin": "round"},
      "encoding": {
        "x": {
          "field": "date",
          "type": "temporal",
          "scale": {"type": "utc", "nice": false, "domain": [{"year": 2022, "month": 8, "date": 31, "utc": true}, {"year": 2025, "month": 1, "date": 23, "hours": 10, "utc": true}]},
          "axis": {
            "orient": "bottom", "offset": -162, "title": null, "grid": false, "domain": false, "ticks": false, "tickSize": 0,
            "values": [
              {"year": 2023, "month": 1, "date": 1, "utc": true},
              {"year": 2023, "month": 4, "date": 1, "utc": true},
              {"year": 2023, "month": 7, "date": 1, "utc": true},
              {"year": 2023, "month": 10, "date": 1, "utc": true},
              {"year": 2024, "month": 1, "date": 1, "utc": true},
              {"year": 2024, "month": 4, "date": 1, "utc": true},
              {"year": 2024, "month": 7, "date": 1, "utc": true},
              {"year": 2024, "month": 10, "date": 1, "utc": true}
            ],
            "format": "%b-%y",
            "labelAngle": -45, "labelAlign": "right", "labelBaseline": "middle",
            "labelPadding": 7, "labelOverlap": false, "labelFlush": false
          }
        },
        "y": {
          "field": "value",
          "type": "quantitative",
          "scale": {"domain": [2.018, 5.786], "nice": false, "zero": false},
          "axis": {
            "orient": "left", "offset": -84, "title": null, "grid": false, "domain": false, "ticks": false, "tickSize": 0,
            "values": [3.0, 3.5, 4.0, 4.5, 5.0, 5.5],
            "labelExpr": "format(datum.value, '.1f') + '%'",
            "labelPadding": 16
          }
        },
        "color": {
          "field": "series",
          "type": "nominal",
          "scale": {"domain": ["U.S. 2-Year Treasury Yield", "U.S. 10-Year Treasury Yield"], "range": ["#185884", "#79a543"]},
          "legend": {
            "orient": "none", "legendX": 186, "legendY": 557, "title": null,
            "symbolType": "M-1.9,0H1.9", "symbolSize": 400, "symbolStrokeWidth": 3,
            "labelOffset": 12, "rowPadding": 3, "padding": 0, "labelLimit": 0
          }
        }
      }
    }
  ],
  "resolve": {"axis": {"x": "independent", "y": "independent"}}
}
